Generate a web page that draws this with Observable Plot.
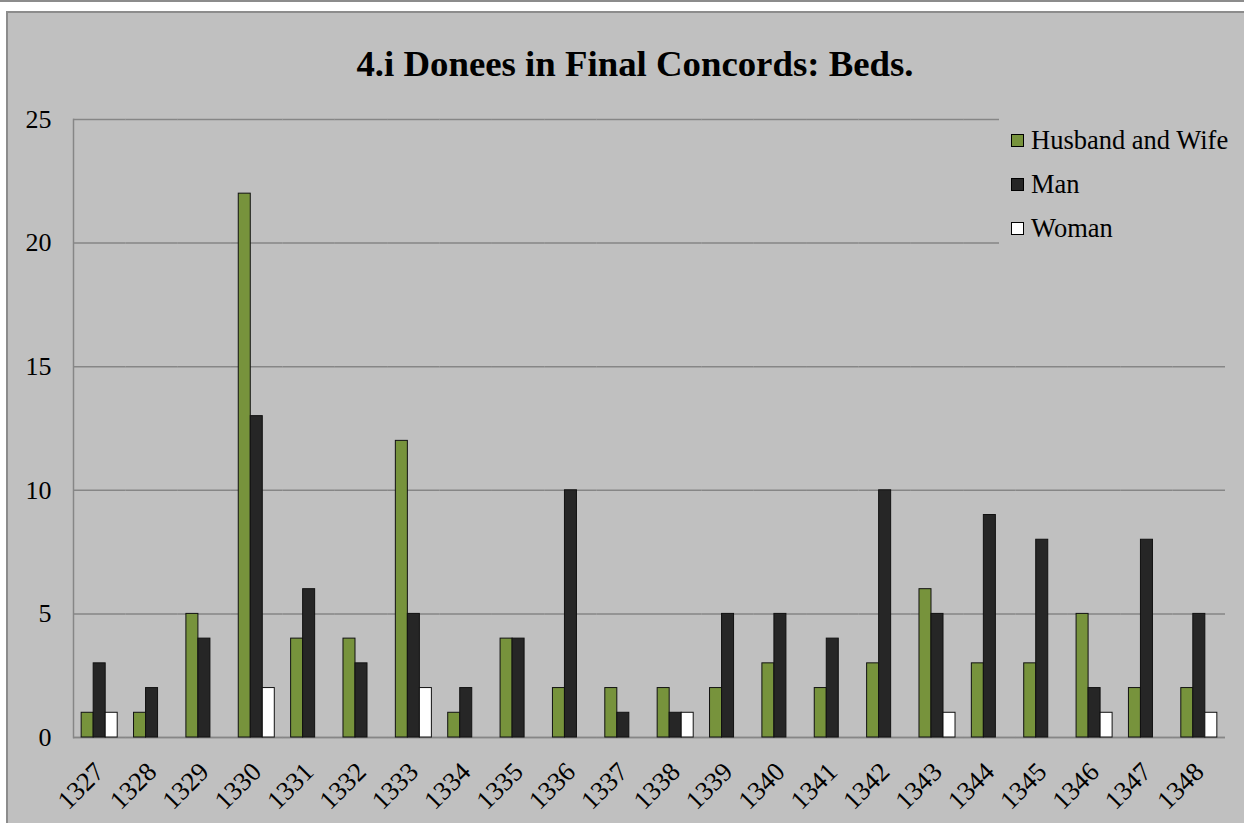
<!DOCTYPE html>
<html><head><meta charset="utf-8">
<script src="https://cdn.jsdelivr.net/npm/d3@7"></script>
<script src="https://cdn.jsdelivr.net/npm/@observablehq/plot@0.6"></script>
<style>
body{margin:0;background:#fff;overflow:hidden;font-family:"Liberation Serif","Times New Roman",serif;}
#topline{position:absolute;left:0;top:0;width:1244px;height:2px;background:#8c8c8c;}
#box{position:absolute;left:6px;top:11px;width:1300px;height:900px;background:#c0c0c0;border:2px solid #8c8c8c;}
#title{position:absolute;left:0;width:1270px;top:45px;line-height:37px;text-align:center;font-weight:bold;font-size:36.8px;color:#000;}
#chart{position:absolute;left:0;top:0;}
#legend{position:absolute;left:999px;top:112px;width:245px;height:140px;background:#c0c0c0;padding-top:6px;box-sizing:border-box;}
.row{height:44px;display:flex;align-items:center;font-size:26.5px;color:#000;}
.sw{width:11px;height:11px;border:1px solid #000;margin-left:12px;margin-right:7px;}
</style>
</head><body>
<div id="topline"></div>
<div id="box"></div>
<div id="title">4.i Donees in Final Concords: Beds.</div>
<div id="chart"></div>
<div id="legend"></div>
<script>
const years = ["1327","1328","1329","1330","1331","1332","1333","1334","1335","1336","1337","1338","1339","1340","1341","1342","1343","1344","1345","1346","1347","1348"];
const seriesNames = ["Husband and Wife","Man","Woman"];
const husbandWife = [1,1,5,22,4,4,12,1,4,2,2,2,2,3,2,3,6,3,3,5,2,2];
const man =         [3,2,4,13,6,3,5,2,4,10,1,1,5,5,4,10,5,9,8,2,8,5];
const woman =       [1,0,0,2,0,0,2,0,0,0,0,1,0,0,0,0,1,0,0,1,0,1];
const yTicks = [0,5,10,15,20,25];
const colors = ["#77933c","#262626","#ffffff"];

const values = [husbandWife, man, woman];
const rows = [];
years.forEach((yr, i) => {
  seriesNames.forEach((s, j) => {
    if (values[j][i] > 0) rows.push({year: yr, series: s, value: values[j][i]});
  });
});

const font = '"Liberation Serif","Times New Roman",serif';
const chart = Plot.plot({
  width: 1244,
  height: 823,
  marginLeft: 73,
  marginRight: 19,
  marginTop: 119,
  marginBottom: 86,
  style: {background: "transparent", fontFamily: font, fontSize: "26px", color: "#000"},
  fx: {domain: years, padding: 0, round: false, label: null},
  x: {domain: seriesNames, paddingInner: 0, paddingOuter: 0.68, axis: null, round: false},
  y: {domain: [0, 25], label: null},
  color: {domain: seriesNames, range: colors},
  marks: [
    Plot.gridY(yTicks, {stroke: "#868686", strokeOpacity: 1, strokeWidth: 1.5}),
    Plot.ruleY([0], {stroke: "#868686", strokeWidth: 1.5}),
    Plot.frame({anchor: "left", facetAnchor: "left", stroke: "#868686", strokeWidth: 1.5}),
    Plot.barY(rows, {fx: "year", x: "series", y: "value", fill: "series", stroke: "#111", strokeWidth: 1}),
    Plot.axisY(yTicks, {tickSize: 0, tickPadding: 22, fontSize: 26, fontFamily: font, label: null}),
    Plot.axisFx({anchor: "bottom", tickRotate: -45, tickSize: 0, tickPadding: 30, fontSize: 26.5, fontFamily: font, label: null})
  ]
});
document.getElementById("chart").appendChild(chart);

const legend = document.getElementById("legend");
seriesNames.forEach((s, j) => {
  const r = document.createElement("div");
  r.className = "row";
  const sw = document.createElement("div");
  sw.className = "sw";
  sw.style.background = colors[j];
  const t = document.createElement("span");
  t.textContent = s;
  r.appendChild(sw); r.appendChild(t);
  legend.appendChild(r);
});
</script>
</body></html>
